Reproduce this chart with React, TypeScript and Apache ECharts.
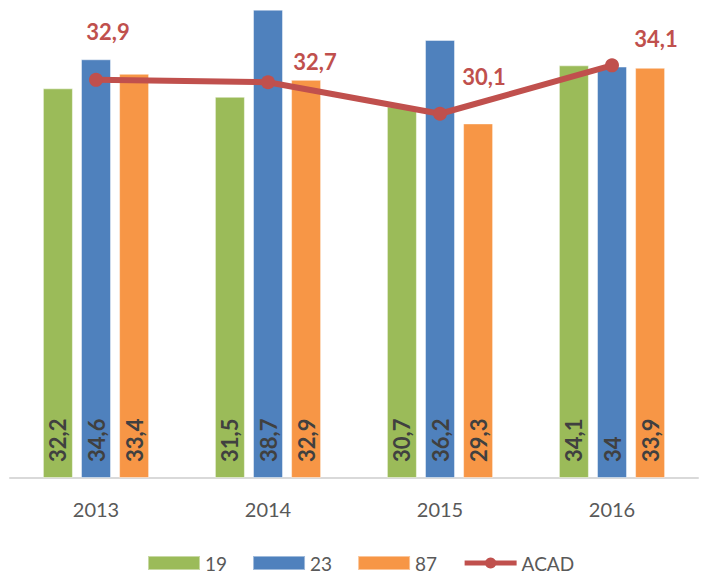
import React, { useEffect, useRef } from "react";
import * as echarts from "echarts";

const categories = ["2013", "2014", "2015", "2016"];
const series19 = [32.2, 31.5, 30.7, 34.1];
const series23 = [34.6, 38.7, 36.2, 34];
const series87 = [33.4, 32.9, 29.3, 33.9];
const seriesACAD = [32.9, 32.7, 30.1, 34.1];
const acadLabelOffsets: [number, number][] = [
  [12, -48],
  [47, -21],
  [44, -37],
  [44, -27],
];

const fmt = (v: number) => String(v).replace(".", ",");
const FONT = "Lato, 'Open Sans', sans-serif";

export default function App() {
  const ref = useRef<HTMLDivElement>(null);
  useEffect(() => {
    if (!ref.current) return;
    const chart = echarts.init(ref.current, null, { renderer: "svg" });
    const barLabel = {
      show: true,
      position: "insideBottom",
      distance: 16,
      rotate: 90,
      align: "left",
      verticalAlign: "middle",
      color: "#404040",
      fontWeight: "bold",
      fontSize: 22,
      fontFamily: FONT,
      formatter: (p: any) => fmt(p.value),
    };
    const mkBar = (name: string, data: number[], color: string) => ({
      name,
      type: "bar",
      data,
      barWidth: 30,
      barGap: "27%",
      itemStyle: { color, borderColor: "rgba(255,255,255,0.45)", borderWidth: 1 },
      label: barLabel,
    });
    chart.setOption({
      animation: false,
      textStyle: { fontFamily: FONT },
      grid: { left: 10, right: 5, top: 0, bottom: 95, containLabel: false },
      legend: {
        left: 147,
        top: 552,
        itemWidth: 52,
        itemHeight: 14,
        itemGap: 25,
        padding: 0,
        textStyle: { fontSize: 19, color: "#595959", fontFamily: FONT, lineHeight: 22 },
        data: [
          { name: "19", icon: "rect" },
          { name: "23", icon: "rect" },
          { name: "87", icon: "rect" },
          { name: "ACAD", lineStyle: { width: 5 } },
        ],
      },
      xAxis: {
        type: "category",
        data: categories,
        axisLine: { lineStyle: { color: "#d9d9d9", width: 2 } },
        axisTick: { show: false },
        axisLabel: { color: "#595959", fontSize: 20, margin: 21, fontFamily: FONT },
      },
      yAxis: {
        type: "value",
        min: 0,
        max: 39.5,
        show: false,
        splitLine: { show: false },
      },
      series: [
        mkBar("19", series19, "#9bbb59"),
        mkBar("23", series23, "#4f81bd"),
        mkBar("87", series87, "#f79646"),
        {
          name: "ACAD",
          type: "line",
          data: seriesACAD.map((v, i) => ({
            value: v,
            label: { offset: acadLabelOffsets[i] },
          })),
          symbol: "circle",
          symbolSize: 14,
          z: 5,
          lineStyle: { color: "#c0504d", width: 6 },
          itemStyle: { color: "#c0504d" },
          label: {
            show: true,
            position: "inside",
            color: "#c0504d",
            fontWeight: "bold",
            fontSize: 22,
            fontFamily: FONT,
            formatter: (p: any) => fmt(p.value),
          },
        },
      ],
    });
    return () => chart.dispose();
  }, []);
  return (
    <div
      ref={ref}
      style={{ position: "fixed", left: 0, top: 0, width: 703, height: 573, background: "#fff" }}
    />
  );
}
